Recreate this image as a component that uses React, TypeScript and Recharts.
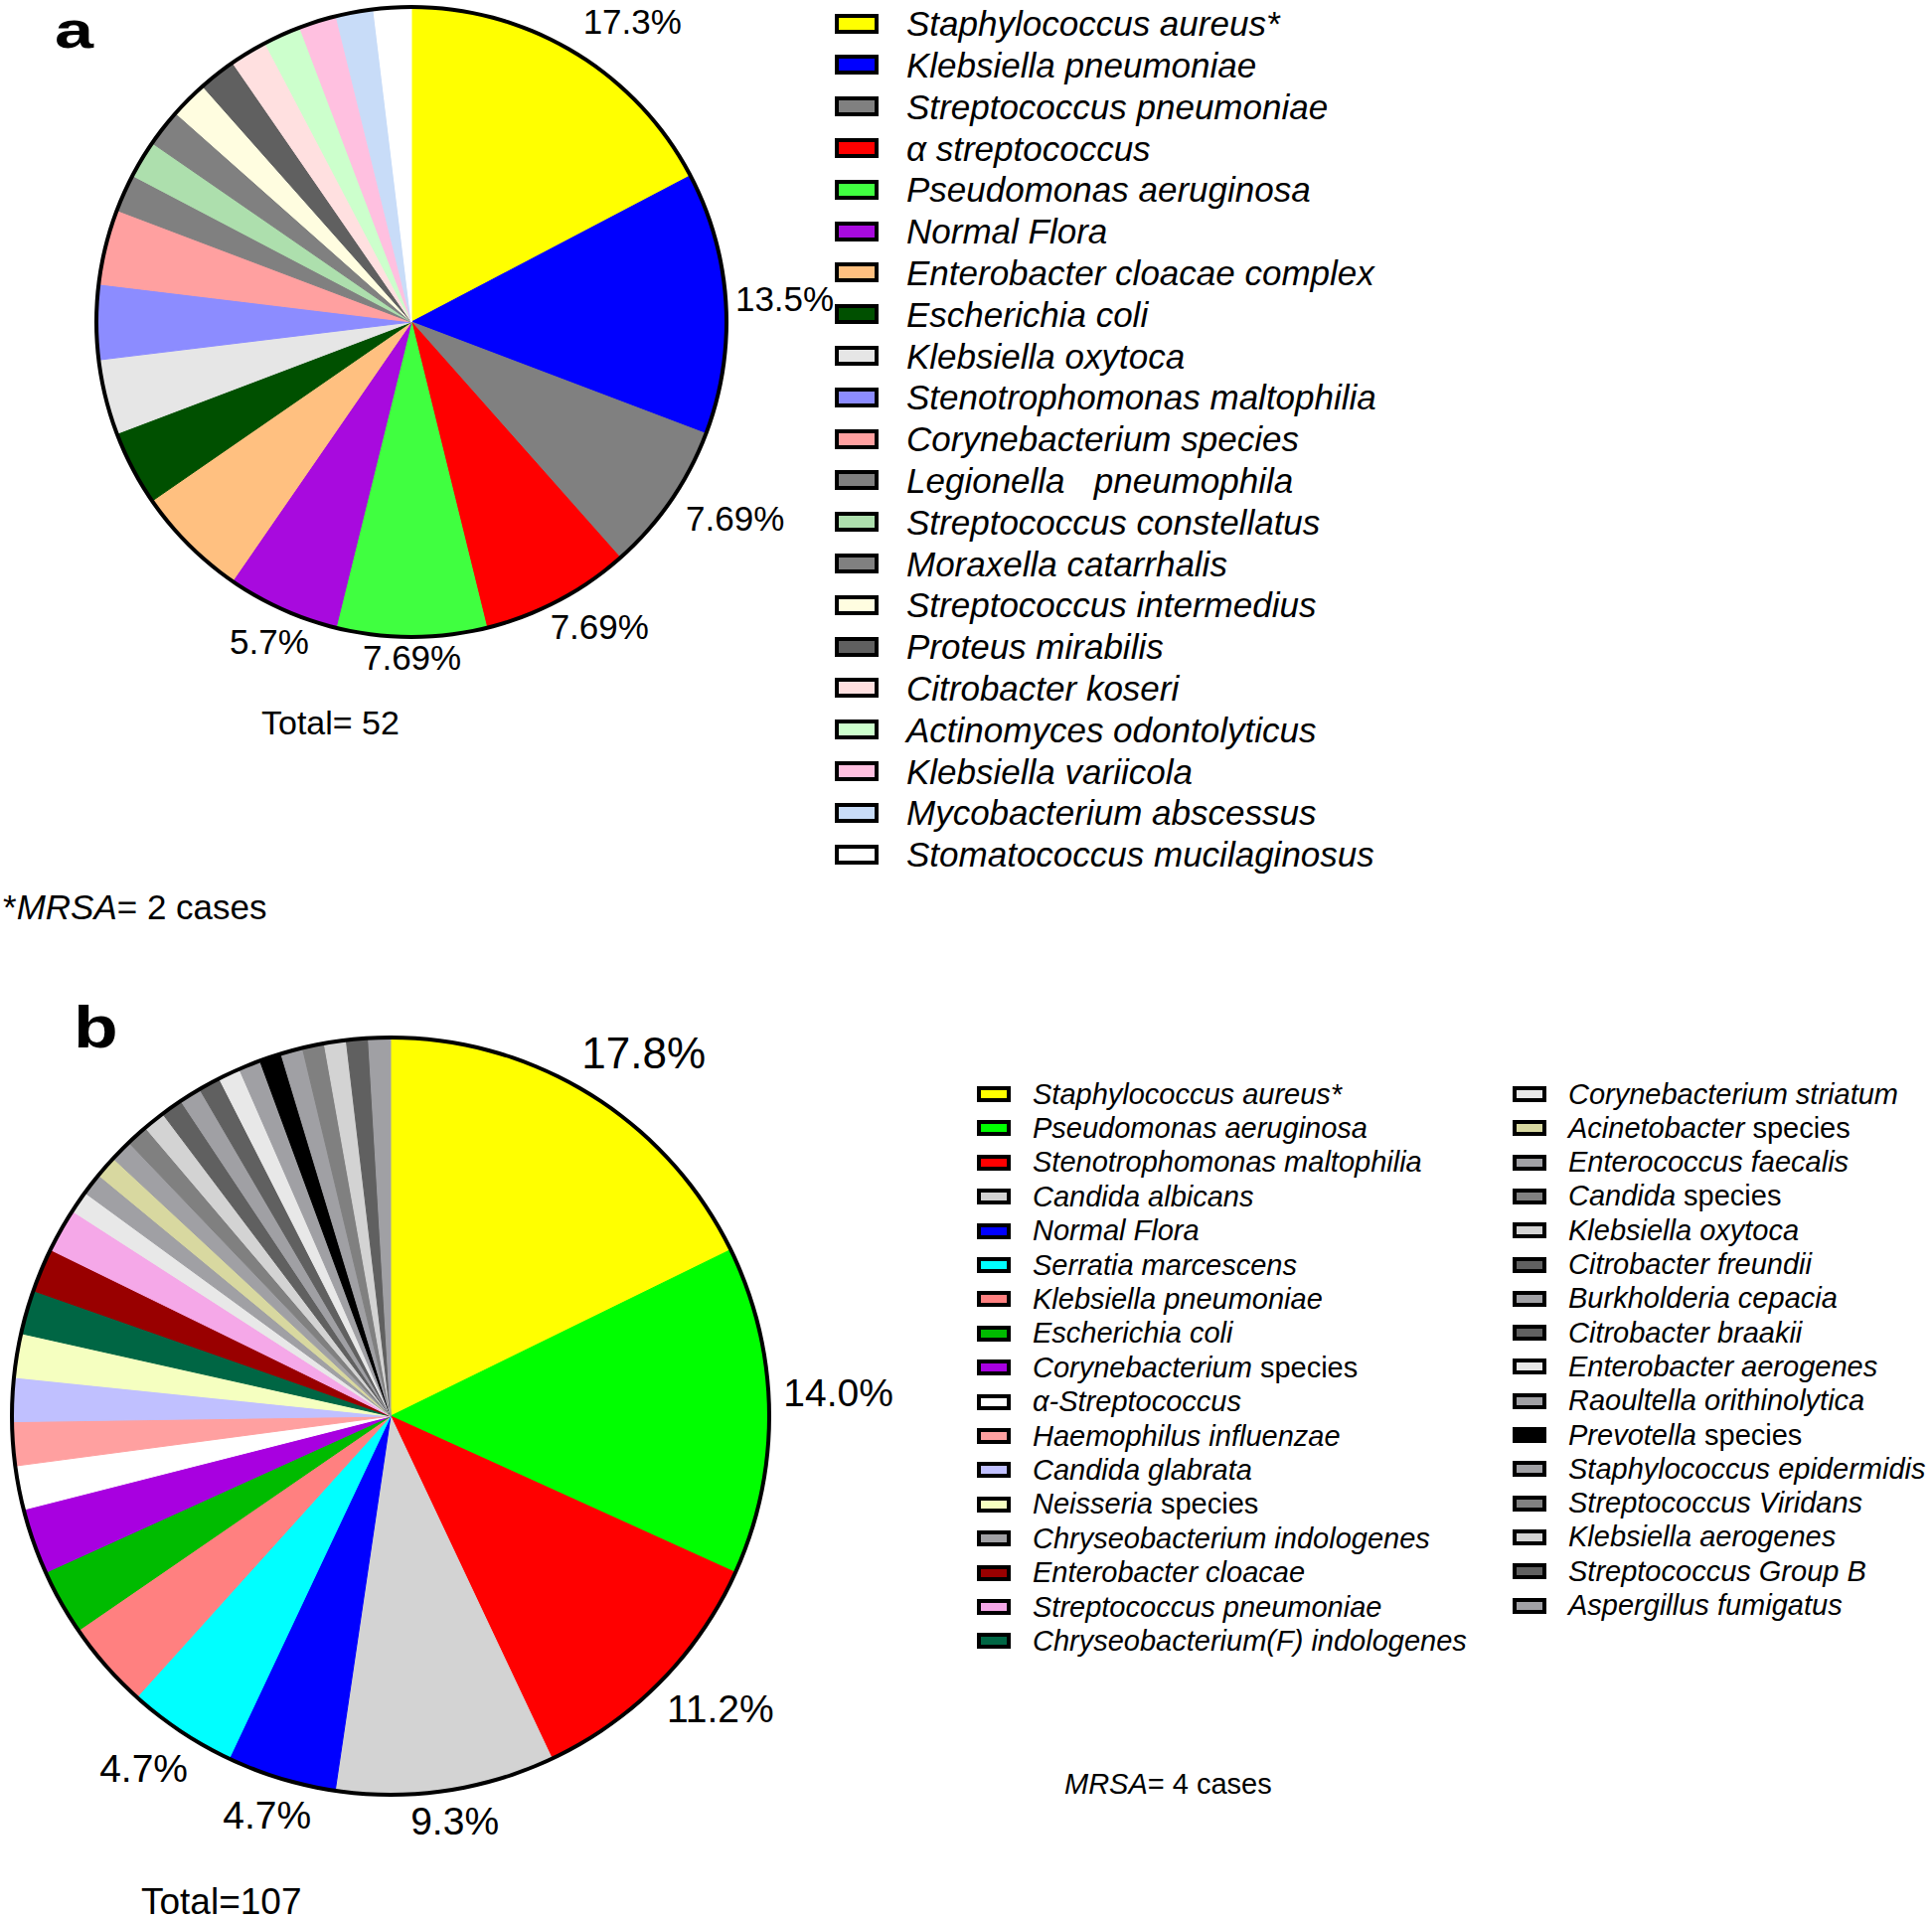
import { PieChart, Pie, Cell } from 'recharts';

const FONT = '"Liberation Sans", Arial, sans-serif';

// panel a
const namesA = [
  'Staphylococcus aureus*', 'Klebsiella pneumoniae', 'Streptococcus pneumoniae', 'α streptococcus',
  'Pseudomonas aeruginosa', 'Normal Flora', 'Enterobacter cloacae complex', 'Escherichia coli',
  'Klebsiella oxytoca', 'Stenotrophomonas maltophilia', 'Corynebacterium species', 'Legionella   pneumophila',
  'Streptococcus constellatus', 'Moraxella catarrhalis', 'Streptococcus intermedius', 'Proteus mirabilis',
  'Citrobacter koseri', 'Actinomyces odontolyticus', 'Klebsiella variicola', 'Mycobacterium abscessus',
  'Stomatococcus mucilaginosus',
];
const countsA = [9, 7, 4, 4, 4, 3, 3, 2, 2, 2, 2, 1, 1, 1, 1, 1, 1, 1, 1, 1, 1];
const colorsA = [
  '#FFFF00', '#0000FF', '#808080', '#FF0000', '#40FF40', '#A80ADE', '#FFC080', '#005000',
  '#E6E6E6', '#8C8CFF', '#FFA0A0', '#808080', '#ADDFAD', '#808080', '#FFFDE0', '#606060',
  '#FFE0E0', '#CCFFCC', '#FFC0E0', '#C8DCF8', '#FFFFFF',
];
const labelsA = ['17.3%', '13.5%', '7.69%', '7.69%', '7.69%', '5.7%'];

// panel b (pie order, clockwise from top)
const namesB = [
  'Staphylococcus aureus*', 'Pseudomonas aeruginosa', 'Stenotrophomonas maltophilia', 'Candida albicans',
  'Normal Flora', 'Serratia marcescens', 'Klebsiella pneumoniae', 'Escherichia coli',
  'Corynebacterium| species', 'α-Streptococcus', 'Haemophilus influenzae', 'Candida glabrata',
  'Neisseria| species', 'Chryseobacterium(F) indologenes', 'Enterobacter cloacae', 'Streptococcus pneumoniae',
  'Corynebacterium striatum', 'Chryseobacterium indologenes', 'Acinetobacter| species', 'Enterococcus faecalis',
  'Candida| species', 'Klebsiella oxytoca', 'Citrobacter freundii', 'Burkholderia cepacia',
  'Citrobacter braakii', 'Enterobacter aerogenes', 'Raoultella orithinolytica', 'Prevotella| species',
  'Staphylococcus epidermidis', 'Streptococcus Viridans', 'Klebsiella aerogenes', 'Streptococcus Group B',
  'Aspergillus fumigatus',
];
const countsB = [19, 15, 12, 10, 5, 5, 4, 3, 3, 2, 2, 2, 2, 2, 2, 2, 1, 1, 1, 1, 1, 1, 1, 1, 1, 1, 1, 1, 1, 1, 1, 1, 1];
const colorsB = [
  '#FFFF00', '#00FF00', '#FF0000', '#D3D3D3', '#0000FF', '#00FFFF', '#FF8080', '#00BB00',
  '#A800E0', '#FFFFFF', '#FFA0A0', '#C0C0FF', '#F5FFC0', '#006644', '#990000', '#F5A8E8',
  '#E8E8E8', '#A0A0A4', '#D8D8A0', '#A0A0A4', '#808080', '#D3D3D3', '#606060', '#A0A0A4',
  '#606060', '#E8E8E8', '#A0A0A4', '#000000', '#A0A0A4', '#808080', '#D3D3D3', '#606060',
  '#A0A0A4',
];
const labelsB = ['17.8%', '14.0%', '11.2%', '9.3%', '4.7%', '4.7%'];

// legend order in panel b
const legendB1 = [
  'Staphylococcus aureus*', 'Pseudomonas aeruginosa', 'Stenotrophomonas maltophilia', 'Candida albicans',
  'Normal Flora', 'Serratia marcescens', 'Klebsiella pneumoniae', 'Escherichia coli',
  'Corynebacterium| species', 'α-Streptococcus', 'Haemophilus influenzae', 'Candida glabrata',
  'Neisseria| species', 'Chryseobacterium indologenes', 'Enterobacter cloacae', 'Streptococcus pneumoniae',
  'Chryseobacterium(F) indologenes',
];
const legendB2 = [
  'Corynebacterium striatum', 'Acinetobacter| species', 'Enterococcus faecalis', 'Candida| species',
  'Klebsiella oxytoca', 'Citrobacter freundii', 'Burkholderia cepacia', 'Citrobacter braakii',
  'Enterobacter aerogenes', 'Raoultella orithinolytica', 'Prevotella| species', 'Staphylococcus epidermidis',
  'Streptococcus Viridans', 'Klebsiella aerogenes', 'Streptococcus Group B', 'Aspergillus fumigatus',
];

// label placement (gap past the rim, angular nudge clockwise in degrees)
const labelGapA = [57, 63, 70, 50, 27, 39];
const labelTurnA = [6, 0.7, -3, -4, -0.6, -1];
const labelGapB = [63, 74, 69, 38, 44, 55];
const labelTurnB = [3.6, -1.5, -2.8, -0.9, -0.2, 0.7];

const dataA = namesA.map((n, i) => ({ name: n, value: countsA[i] }));
const dataB = namesB.map((n, i) => ({ name: n, value: countsB[i] }));
const ring = [{ name: 'outline', value: 1 }];

const RAD = Math.PI / 180;

function makeLabel(texts: string[], gaps: number[], turns: number[], size: (i: number) => number) {
  return (p: any) => {
    const t = texts[p.index];
    if (!t) return null;
    const r = p.outerRadius + gaps[p.index];
    const a = p.midAngle - turns[p.index];
    const x = p.cx + r * Math.cos(-a * RAD) - 3;
    const y = p.cy + r * Math.sin(-a * RAD) - 5;
    return (
      <text key={`l-${p.index}`} x={x} y={y} textAnchor="middle" dominantBaseline="central"
        fontSize={size(p.index)} fontFamily={FONT} fill="#000">
        {t}
      </text>
    );
  };
}

function Name({ s }: { s: string }) {
  const [it, plain] = s.split('|');
  return (
    <span style={{ whiteSpace: 'pre' }}>
      <i>{it}</i>{plain ?? ''}
    </span>
  );
}

function Txt({ x, cy, size, children }: any) {
  return (
    <div style={{ position: 'absolute', left: x, top: cy - size / 2, fontSize: size, lineHeight: 1, whiteSpace: 'pre' }}>
      {children}
    </div>
  );
}

function PanelLetter({ x, top, size, sx, children }: any) {
  return (
    <div style={{ position: 'absolute', left: x, top, fontSize: size, lineHeight: 'normal', fontWeight: 'bold', transform: `scaleX(${sx})`, transformOrigin: 'left top' }}>
      {children}
    </div>
  );
}

export default function App() {
  const colorOfB = (n: string) => colorsB[namesB.indexOf(n)];
  return (
    <div style={{ position: 'absolute', left: 0, top: 0, width: 1944, height: 1930, background: '#fff', fontFamily: FONT, color: '#000' }}>
      <div style={{ position: 'absolute', left: 0, top: 0 }}>
        <PieChart width={1944} height={1930}>
          <Pie data={dataA} dataKey="value" cx={409} cy={319} outerRadius={316} startAngle={90} endAngle={-270}
            isAnimationActive={false} labelLine={false} label={makeLabel(labelsA, labelGapA, labelTurnA, () => 35)}>
            {dataA.map((d, i) => (
              <Cell key={d.name} fill={colorsA[i]} stroke={colorsA[i]} strokeWidth={1} />
            ))}
          </Pie>
          <Pie data={ring} dataKey="value" cx={409} cy={319} innerRadius={315} outerRadius={319} startAngle={90} endAngle={-270}
            isAnimationActive={false} fill="#000" stroke="none" />
          <Pie data={dataB} dataKey="value" cx={388} cy={1420} outerRadius={380} startAngle={90} endAngle={-270}
            isAnimationActive={false} labelLine={false} label={makeLabel(labelsB, labelGapB, labelTurnB, (i) => (i === 0 ? 44 : 39))}>
            {dataB.map((d, i) => (
              <Cell key={d.name} fill={colorsB[i]} stroke={colorsB[i]} strokeWidth={1} />
            ))}
          </Pie>
          <Pie data={ring} dataKey="value" cx={388} cy={1420} innerRadius={379} outerRadius={383} startAngle={90} endAngle={-270}
            isAnimationActive={false} fill="#000" stroke="none" />
        </PieChart>
      </div>

      {/* panel a texts */}
      <PanelLetter x={55} top={0} size={52} sx={1.35}>a</PanelLetter>
      <Txt x={263} cy={727} size={34}>Total= 52</Txt>
      <Txt x={3} cy={912} size={35}>*<i>MRSA</i>= 2 cases</Txt>
      {namesA.map((n, i) => {
        const cy = 23.6 + i * 41.8;
        return (
          <div key={n}>
            <div style={{ position: 'absolute', left: 840, top: cy - 10, width: 44, height: 20, boxSizing: 'border-box', border: '4px solid #000', background: colorsA[i] }} />
            <Txt x={912} cy={cy} size={35}><i>{n}</i></Txt>
          </div>
        );
      })}

      {/* panel b texts */}
      <PanelLetter x={74} top={999} size={60} sx={1.22}>b</PanelLetter>
      <Txt x={142} cy={1913} size={37}>Total=107</Txt>
      <Txt x={1071} cy={1795} size={29}><i>MRSA</i>= 4 cases</Txt>
      {legendB1.map((n, i) => {
        const cy = 1101 + i * 34.4;
        return (
          <div key={n}>
            <div style={{ position: 'absolute', left: 983, top: cy - 8, width: 34, height: 16, boxSizing: 'border-box', border: '4px solid #000', background: colorOfB(n) }} />
            <Txt x={1039} cy={cy} size={29}><Name s={n} /></Txt>
          </div>
        );
      })}
      {legendB2.map((n, i) => {
        const cy = 1101 + i * 34.3;
        return (
          <div key={n}>
            <div style={{ position: 'absolute', left: 1522, top: cy - 8, width: 34, height: 16, boxSizing: 'border-box', border: '4px solid #000', background: colorOfB(n) }} />
            <Txt x={1578} cy={cy} size={29}><Name s={n} /></Txt>
          </div>
        );
      })}
    </div>
  );
}
